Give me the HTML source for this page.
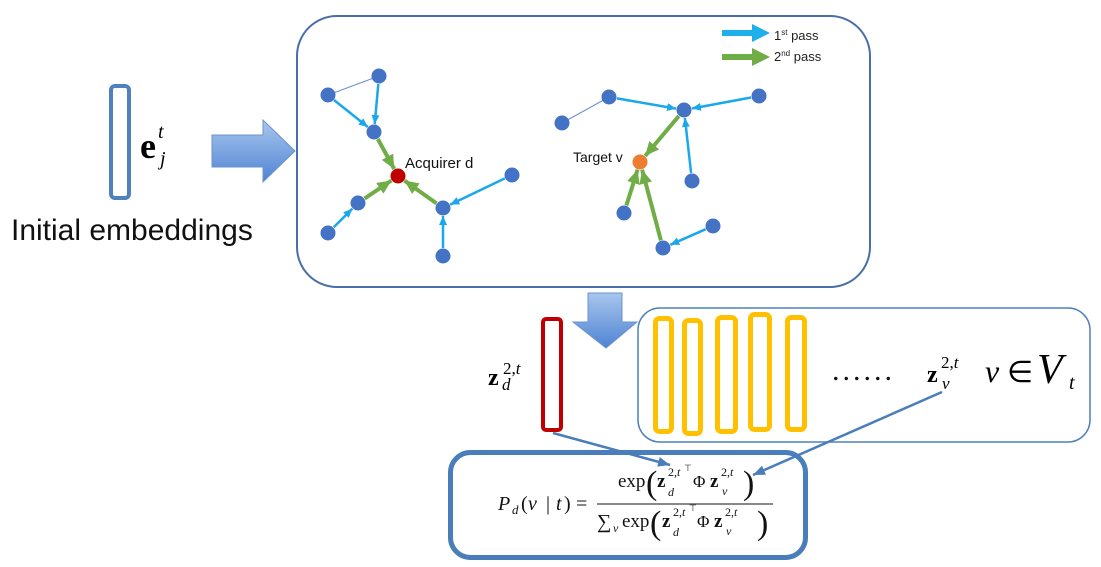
<!DOCTYPE html>
<html><head><meta charset="utf-8"><style>
html,body{margin:0;padding:0;background:#fff;}
svg{display:block;}
.s{font-family:"Liberation Serif",serif;}
.a{font-family:"Liberation Sans",sans-serif;}
</style></head><body>
<svg width="1101" height="567" viewBox="0 0 1101 567" xmlns="http://www.w3.org/2000/svg">
<defs>
<linearGradient id="ga" x1="0" y1="0" x2="0" y2="1">
<stop offset="0" stop-color="#a9c6ee"/><stop offset="1" stop-color="#4f84d2"/>
</linearGradient>
<linearGradient id="gd" x1="0" y1="0" x2="0" y2="1">
<stop offset="0" stop-color="#a9c6ee"/><stop offset="1" stop-color="#4f84d2"/>
</linearGradient>
<marker id="mb" markerWidth="9" markerHeight="8" refX="9" refY="4" orient="auto" markerUnits="userSpaceOnUse"><path d="M0,0 L9,4 L0,8 z" fill="#1aa8ea"/></marker>
<marker id="mg" markerWidth="14" markerHeight="13" refX="14" refY="6.5" orient="auto" markerUnits="userSpaceOnUse"><path d="M0,0 L14,6.5 L0,13 z" fill="#70ad47"/></marker>
<marker id="mc" markerWidth="12" markerHeight="10" refX="12" refY="5" orient="auto" markerUnits="userSpaceOnUse"><path d="M0,0 L12,5 L0,10 z" fill="#4a7ebb"/></marker>
</defs>

<!-- left: initial embedding -->
<rect x="111" y="86" width="18" height="112" rx="4" fill="none" stroke="#4f81bd" stroke-width="4"/>
<text class="s" x="140" y="158" font-size="36" font-weight="bold">e</text>
<text class="s" x="158" y="138" font-size="20" font-style="italic">t</text>
<text class="s" x="160" y="165" font-size="20" font-style="italic">j</text>
<text class="a" x="11" y="240" font-size="30" fill="#111">Initial embeddings</text>

<!-- big right arrow -->
<polygon points="212,135 263,135 263,120 295,151 263,182 263,167 212,167" fill="url(#ga)" stroke="#6a93cc" stroke-width="1"/>

<!-- graph box -->
<rect x="297" y="16" width="573" height="271" rx="40" fill="none" stroke="#4a6ea8" stroke-width="2"/>

<!-- legend -->
<polygon points="722,30 752,30 752,24 770,33 752,42 752,36 722,36" fill="#1fb0ec"/>
<polygon points="722,54 752,54 752,48 770,57 752,66 752,60 722,60" fill="#70ad47"/>
<text class="a" x="774" y="40" font-size="13" fill="#222">1<tspan font-size="8" dy="-5">st</tspan><tspan dy="5"> pass</tspan></text>
<text class="a" x="774" y="61" font-size="13" fill="#222">2<tspan font-size="8" dy="-5">nd</tspan><tspan dy="5"> pass</tspan></text>

<!-- left graph edges -->
<line x1="328" y1="95" x2="379" y2="76" stroke="#6a8fd0" stroke-width="1"/>
<g stroke="#1aa8ea" stroke-width="2.5" fill="none">
<line x1="334" y1="100" x2="367.8" y2="127" marker-end="url(#mb)"/>
<line x1="378.3" y1="84" x2="374.7" y2="124" marker-end="url(#mb)"/>
<line x1="333.7" y1="227.3" x2="352.3" y2="208.7" marker-end="url(#mb)"/>
<line x1="504.8" y1="178.4" x2="450.2" y2="204.6" marker-end="url(#mb)"/>
<line x1="443" y1="248" x2="443" y2="216" marker-end="url(#mb)"/>
</g>
<g stroke="#70ad47" stroke-width="4" fill="none">
<line x1="377.8" y1="139" x2="394.2" y2="169" marker-end="url(#mg)"/>
<line x1="364.6" y1="198.5" x2="391.4" y2="180.5" marker-end="url(#mg)"/>
<line x1="436.5" y1="203.4" x2="404.5" y2="180.6" marker-end="url(#mg)"/>
</g>
<g fill="#4472c4">
<circle cx="328" cy="95" r="7.5"/>
<circle cx="379" cy="76" r="7.5"/>
<circle cx="374" cy="132" r="7.5"/>
<circle cx="358" cy="203" r="7.5"/>
<circle cx="328" cy="233" r="7.5"/>
<circle cx="443" cy="208" r="7.5"/>
<circle cx="512" cy="175" r="7.5"/>
<circle cx="443" cy="256" r="7.5"/>
</g>
<circle cx="398" cy="176" r="7.5" fill="#c00000"/>
<text class="a" x="405" y="168" font-size="15" fill="#111">Acquirer d</text>

<!-- right graph edges -->
<line x1="562" y1="123" x2="609" y2="97" stroke="#6a8fd0" stroke-width="1"/>
<g stroke="#1aa8ea" stroke-width="2.5" fill="none">
<line x1="616.9" y1="98.4" x2="676.1" y2="108.6" marker-end="url(#mb)"/>
<line x1="751.1" y1="97.5" x2="691.9" y2="108.5" marker-end="url(#mb)"/>
<line x1="691.1" y1="173" x2="684.9" y2="118" marker-end="url(#mb)"/>
<line x1="705.7" y1="229.2" x2="670.3" y2="244.8" marker-end="url(#mb)"/>
</g>
<g stroke="#70ad47" stroke-width="4" fill="none">
<line x1="678.8" y1="116.1" x2="645.2" y2="155.9" marker-end="url(#mg)"/>
<line x1="626.4" y1="205.4" x2="637.6" y2="169.6" marker-end="url(#mg)"/>
<line x1="660.9" y1="240.3" x2="642.1" y2="169.7" marker-end="url(#mg)"/>
</g>
<g fill="#4472c4">
<circle cx="562" cy="123" r="7.5"/>
<circle cx="609" cy="97" r="7.5"/>
<circle cx="684" cy="110" r="7.5"/>
<circle cx="759" cy="96" r="7.5"/>
<circle cx="692" cy="181" r="7.5"/>
<circle cx="624" cy="213" r="7.5"/>
<circle cx="713" cy="226" r="7.5"/>
<circle cx="663" cy="248" r="7.5"/>
</g>
<circle cx="640" cy="162" r="7.5" fill="#ed7d31"/>
<text class="a" x="573" y="162" font-size="14" fill="#111">Target v</text>

<!-- down arrow -->
<polygon points="588,293 622,293 622,322 637,322 606,348 573,322 588,322" fill="url(#gd)" stroke="#6a93cc" stroke-width="1"/>

<!-- z_d -->
<rect x="543" y="319" width="18" height="111" rx="3" fill="none" stroke="#c00000" stroke-width="4"/>
<text class="s" x="488" y="385" font-size="24" font-weight="bold">z</text>
<text class="s" x="503" y="374" font-size="17">2,<tspan font-style="italic">t</tspan></text>
<text class="s" x="502" y="390" font-size="17" font-style="italic">d</text>

<!-- candidate box -->
<rect x="638" y="308" width="452" height="134" rx="22" fill="#fff" stroke="#4f81bd" stroke-width="1.5"/>
<g fill="none" stroke="#ffc000" stroke-width="5">
<rect x="655.5" y="318.5" width="16" height="113" rx="4"/>
<rect x="684.5" y="320.5" width="16" height="113" rx="4"/>
<rect x="717.5" y="317.5" width="18" height="114" rx="4"/>
<rect x="750.5" y="314.5" width="19" height="115" rx="4"/>
<rect x="787.5" y="317.5" width="17" height="112" rx="4"/>
</g>
<text class="s" x="832" y="380" font-size="30" letter-spacing="3" fill="#111">......</text>
<text class="s" x="927" y="382" font-size="24" font-weight="bold">z</text>
<text class="s" x="941" y="368" font-size="17">2,<tspan font-style="italic">t</tspan></text>
<text class="s" x="942" y="389" font-size="17" font-style="italic">v</text>
<text class="s" x="985" y="382" font-size="32" font-style="italic">v</text>
<text class="s" x="1007" y="382" font-size="30">∈</text>
<text class="s" x="1037" y="383" font-size="42" font-style="italic">V</text>
<text class="s" x="1069" y="389" font-size="20" font-style="italic">t</text>

<!-- formula box -->
<rect x="450.5" y="452.5" width="355" height="105" rx="20" fill="#fff" stroke="#4a7ebb" stroke-width="5"/>

<!-- formula -->
<g class="s" fill="#111">
<text x="498" y="510" font-size="20" font-style="italic">P</text>
<text x="512" y="514" font-size="13" font-style="italic">d</text>
<text x="521" y="510" font-size="20">(</text>
<text x="528" y="510" font-size="20" font-style="italic">v</text>
<text x="546" y="510" font-size="20">|</text>
<text x="556" y="510" font-size="20" font-style="italic">t</text>
<text x="564" y="510" font-size="20">)</text>
<text x="576" y="510" font-size="20">=</text>
<line x1="597" y1="504" x2="773" y2="504" stroke="#111" stroke-width="1"/>
<!-- numerator -->
<text x="618" y="487" font-size="19">exp</text>
<text x="646" y="494" font-size="34">(</text>
<text x="657" y="487" font-size="19" font-weight="bold">z</text>
<text x="668" y="476" font-size="12">2,<tspan font-style="italic">t</tspan></text>
<text x="684" y="471" font-size="9">⊤</text>
<text x="668" y="496" font-size="12" font-style="italic">d</text>
<text x="693" y="487" font-size="17">Φ</text>
<text x="710" y="487" font-size="19" font-weight="bold">z</text>
<text x="721" y="476" font-size="12">2,<tspan font-style="italic">t</tspan></text>
<text x="722" y="495" font-size="12" font-style="italic">v</text>
<text x="743" y="494" font-size="34">)</text>
<!-- denominator -->
<text x="597" y="528" font-size="20">∑</text>
<text x="613" y="532" font-size="12" font-style="italic">v</text>
<text x="622" y="527" font-size="19">exp</text>
<text x="650" y="534" font-size="34">(</text>
<text x="662" y="527" font-size="19" font-weight="bold">z</text>
<text x="673" y="516" font-size="12">2,<tspan font-style="italic">t</tspan></text>
<text x="689" y="511" font-size="9">⊤</text>
<text x="673" y="536" font-size="12" font-style="italic">d</text>
<text x="697" y="527" font-size="17">Φ</text>
<text x="714" y="527" font-size="19" font-weight="bold">z</text>
<text x="725" y="516" font-size="12">2,<tspan font-style="italic">t</tspan></text>
<text x="726" y="535" font-size="12" font-style="italic">v</text>
<text x="757" y="534" font-size="34">)</text>
</g>

<!-- connectors -->
<line x1="553" y1="433" x2="670" y2="465" stroke="#4a7ebb" stroke-width="2.5" marker-end="url(#mc)"/>
<line x1="942" y1="392" x2="753" y2="475" stroke="#4a7ebb" stroke-width="2.5" marker-end="url(#mc)"/>
</svg>
</body></html>
